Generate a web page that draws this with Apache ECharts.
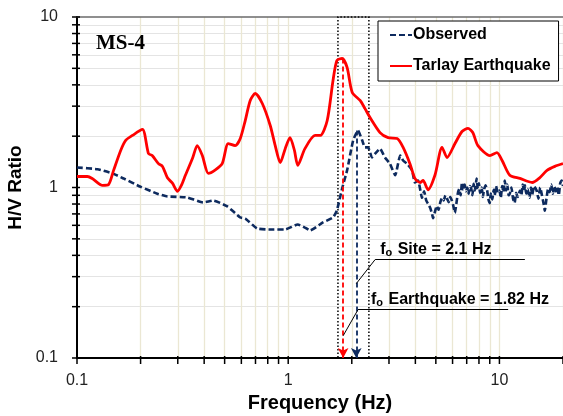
<!DOCTYPE html>
<html>
<head>
<meta charset="utf-8">
<script src="https://cdn.jsdelivr.net/npm/echarts@6/dist/echarts.min.js"></script>
<style>
  html, body { margin: 0; padding: 0; background: #fff; }
  #chart { width: 563px; height: 416px; }
</style>
</head>
<body>
<div id="chart"></div>
<script>
// Tarlay earthquake H/V curve
const freqEq = [0.1, 0.112, 0.118, 0.132, 0.141, 0.149, 0.161, 0.17, 0.183, 0.204, 0.218, 0.227, 0.243, 0.254, 0.268, 0.283, 0.299, 0.312, 0.326, 0.352, 0.371, 0.392, 0.419, 0.452, 0.487, 0.52, 0.561, 0.593, 0.626, 0.661, 0.698, 0.754, 0.822, 0.868, 0.917, 0.968, 1.02, 1.07, 1.11, 1.2, 1.34, 1.42, 1.53, 1.63, 1.7, 1.8, 1.9, 2.01, 2.19, 2.31, 2.44, 2.72, 2.97, 3.28, 3.5, 3.77, 3.98, 4.21, 4.35, 4.59, 4.95, 5.35, 5.65, 6.16, 6.65, 7.1, 7.48, 7.91, 9.02, 9.73, 10.3, 11.2, 12.5, 14.3, 15.5, 16.8, 18.3, 20];
const hvEq = [1.16, 1.16, 1.13, 1.03, 1.04, 1.26, 1.65, 1.89, 2.02, 2.19, 1.58, 1.54, 1.38, 1.33, 1.14, 1.06, 0.95, 1.03, 1.18, 1.48, 1.76, 1.54, 1.21, 1.27, 1.38, 1.81, 1.76, 1.94, 2.47, 3.24, 3.56, 3.11, 2.31, 1.76, 1.40, 1.69, 1.96, 1.65, 1.35, 1.69, 2.02, 2.02, 2.47, 4.24, 5.56, 5.71, 5.06, 3.61, 3.24, 2.90, 2.57, 2.10, 1.96, 1.94, 1.72, 1.38, 1.13, 1.07, 1.10, 0.97, 1.18, 1.72, 1.50, 1.81, 2.13, 2.22, 2.10, 1.76, 1.54, 1.60, 1.44, 1.18, 1.13, 1.07, 1.14, 1.26, 1.33, 1.38];

// observed (site) H/V curve
const freqObs = [0.1, 0.125, 0.147, 0.166, 0.2, 0.24, 0.268, 0.333, 0.396, 0.442, 0.515, 0.593, 0.626, 0.713, 0.84, 0.968, 1.11, 1.2, 1.27, 1.46, 1.63, 1.7, 1.8, 1.9, 2.03, 2.14, 2.24, 2.31, 2.39, 2.49, 2.58, 2.72, 2.87, 3.03, 3.21, 3.39, 3.5, 3.65, 3.86, 3.98, 4.12,
  4.3, 4.4, 4.5, 4.6, 4.7, 4.8, 4.85, 4.95, 5.05, 5.15, 5.25, 5.35, 5.45, 5.55, 5.65, 5.75, 5.85, 5.95, 6.05, 6.15, 6.25, 6.35, 6.45, 6.55, 6.65, 6.75, 6.85, 6.95, 7.05, 7.15, 7.25, 7.35, 7.45, 7.55, 7.65, 7.8, 7.9, 8.0, 8.1, 8.25, 8.35, 8.45, 8.6, 8.75, 8.85, 9.0, 9.1, 9.25, 9.4, 9.5, 9.65, 9.8,
  10.0, 10.15, 10.3, 10.45, 10.6, 10.75, 10.9, 11.05, 11.2, 11.4, 11.6, 11.8, 12.0, 12.2, 12.5, 12.7, 12.9, 13.1, 13.2, 13.4, 13.6, 13.9, 14.1, 14.3, 14.6, 15.0, 15.3, 15.6, 15.9, 16.2, 16.4, 16.7, 17.0, 17.3, 17.6, 17.9, 18.2, 18.5, 18.8, 19.1, 19.4, 19.7, 20.0];
const hvObs = [1.31, 1.28, 1.21, 1.13, 1.01, 0.92, 0.886, 0.874, 0.817, 0.839, 0.774, 0.667, 0.658, 0.575, 0.567, 0.567, 0.607, 0.582, 0.56, 0.624, 0.667, 0.733, 0.987, 1.26, 1.89, 2.16, 1.89, 1.72, 1.72, 1.50, 1.58, 1.69, 1.50, 1.38, 1.18, 1.54, 1.44, 1.38, 1.26, 1.07, 1.10,
  0.87, 0.95, 0.84, 0.80, 0.76, 0.70, 0.66, 0.72, 0.78, 0.74, 0.82, 0.87, 0.84, 0.90, 0.86, 0.82, 0.88, 0.84, 0.78, 0.71, 0.80, 0.92, 0.98, 0.90, 1.07, 0.97, 1.04, 0.95, 1.00, 0.92, 1.02, 0.99, 0.90, 1.05, 0.96, 1.13, 0.98, 1.06, 0.93, 1.00, 0.88, 0.97, 1.03, 0.96, 0.86, 0.81, 0.92, 0.85, 0.97, 0.90, 1.02, 0.93,
  0.96, 0.87, 1.02, 0.94, 1.10, 0.96, 1.04, 0.90, 0.92, 1.00, 0.86, 0.81, 0.93, 0.88, 0.96, 0.90, 1.04, 0.95, 1.03, 0.92, 0.98, 0.87, 1.00, 0.91, 1.02, 0.96, 0.86, 1.00, 0.90, 0.80, 0.73, 0.86, 0.98, 0.94, 1.04, 0.92, 1.02, 0.95, 1.00, 0.90, 1.06, 1.10, 1.02];

// peak frequencies and the dotted window around them
const foSite = 2.1;
const foEq = 1.82;
const windowFreq = [1.72, 2.41];

// grid lines and tick marks (log decades)
const gridFreq = [0.2, 0.3, 0.4, 0.5, 0.6, 0.7, 0.8, 0.9, 1, 2, 3, 4, 5, 6, 7, 8, 9, 10, 20];
const gridRatio = [0.2, 0.3, 0.4, 0.5, 0.6, 0.7, 0.8, 0.9, 1, 2, 3, 4, 5, 6, 7, 8, 9];
const tickFreq = [0.1, 0.2, 0.3, 0.4, 0.5, 0.6, 0.7, 0.8, 0.9, 1, 2, 3, 4, 5, 6, 7, 8, 9, 10, 20];
const tickRatio = [0.1, 0.2, 0.3, 0.4, 0.5, 0.6, 0.7, 0.8, 0.9, 1, 2, 3, 4, 5, 6, 7, 8, 9, 10];
const xLabels = [0.1, 1, 10];

const FONT = "'Liberation Sans', Arial, sans-serif";
const NAVY = "#0d2a5e";
const RED = "#ff0000";

const chart = echarts.init(document.getElementById("chart"));

const pairs = (xs, ys) => xs.map((x, i) => [x, ys[i]]);

// small helper: thin filled rect, crisper than a 1px stroke
const bar = (x, y, w, h, fill) => ({ type: "rect", shape: { x, y, width: w, height: h }, style: { fill } });

const fo = (rest) => ({
  formatter: "{b|f}{s|o}{b|" + rest + "}",
  rich: {
    b: { fontFamily: FONT, fontWeight: "bold", fontSize: 16, color: "#000" },
    s: { fontFamily: FONT, fontWeight: "bold", fontSize: 11, color: "#000", verticalAlign: "bottom", padding: [7, 1, 0, 0] },
  },
});

const gridLines = [
  ...gridRatio.map((r) => ({ yAxis: r, lineStyle: { color: "#e4e4e4", width: 1.2, type: "solid" } })),
  ...gridFreq.map((f) => ({ xAxis: f, lineStyle: { color: "#ebe7d3", width: 1.3, type: "solid" } })),
];

const option = {
  animation: false,
  title: {
    text: "MS-4",
    left: 91,
    top: 28,
    textStyle: { fontFamily: "'Liberation Serif', 'Times New Roman', serif", fontWeight: "bold", fontSize: 21, color: "#000" },
  },
  legend: {
    orient: "vertical",
    left: 378,
    top: 21,
    z: 10,
    padding: [6, 8, 7, 11],
    itemGap: 15,
    itemWidth: 22,
    itemHeight: 14,
    borderColor: "#000",
    borderWidth: 1,
    backgroundColor: "#fff",
    itemStyle: { opacity: 0 },
    data: ["Observed", "Tarlay Earthquake"],
    textStyle: { fontFamily: FONT, fontWeight: "bold", fontSize: 16, color: "#000", padding: [0, 0, 0, -4] },
  },
  grid: { left: 77, right: 0, top: 17, bottom: 58, containLabel: false, outerBoundsMode: "none" },
  xAxis: [
    {
      type: "log",
      logBase: 10,
      min: 0.1,
      max: 20,
      name: "Frequency (Hz)",
      nameLocation: "middle",
      nameGap: 30,
      nameTextStyle: { fontFamily: FONT, fontWeight: "bold", fontSize: 20, color: "#000" },
      axisLine: { lineStyle: { color: "#000", width: 2 } },
      axisTick: { show: false },
      splitLine: { show: false },
      axisLabel: {
        fontFamily: FONT, fontSize: 16, color: "#222", margin: 15,
        formatter: (v) => {
          const n = Number(v.toPrecision(3));
          return xLabels.includes(n) ? String(n) : "";
        },
      },
    },
    {
      type: "log",
      logBase: 10,
      min: 0.1,
      max: 20,
      position: "top",
      axisLine: { lineStyle: { color: "#6b6b6b", width: 1.5 } },
      axisTick: { show: false },
      axisLabel: { show: false },
      splitLine: { show: false },
    },
  ],
  yAxis: {
    type: "log",
    logBase: 10,
    min: 0.1,
    max: 10,
    name: "H/V Ratio",
    nameLocation: "middle",
    nameGap: 48,
    nameTextStyle: { fontFamily: FONT, fontWeight: "bold", fontSize: 19, color: "#000" },
    axisLine: { lineStyle: { color: "#000", width: 2 } },
    axisTick: { show: false },
    splitLine: { show: false },
    axisLabel: {
      fontFamily: FONT, fontSize: 16, color: "#222", margin: 19,
      formatter: (v) => String(Number(v.toPrecision(3))),
    },
  },
  series: [
    {
      // background grid carried by an invisible series
      type: "line",
      name: "grid",
      z: 0,
      silent: true,
      symbol: "none",
      data: [[1, 1]],
      lineStyle: { opacity: 0 },
      markLine: {
        z: 0,
        silent: true,
        symbol: "none",
        animation: false,
        label: { show: false },
        data: gridLines,
      },
    },
    {
      // cross tick marks
      type: "custom",
      silent: true,
      z: 6,
      clip: false,
      data: [[1, 1]],
      renderItem: (params, api) => {
        const kids = [];
        const yb = api.coord([0.1, 0.1])[1];
        const xl = api.coord([0.1, 0.1])[0];
        tickFreq.forEach((f) => {
          const x = api.coord([f, 1])[0];
          kids.push(bar(x - 0.75, yb - 2, 1.5, 8, "#000"));
        });
        tickRatio.forEach((r) => {
          const y = api.coord([1, r])[1];
          kids.push(bar(xl - 5, y - 0.75, 8, 1.5, "#000"));
        });
        return { type: "group", children: kids };
      },
    },
    {
      name: "Observed",
      type: "line",
      z: 3,
      symbol: "none",
      smooth: 0.15,
      data: pairs(freqObs, hvObs),
      lineStyle: { color: NAVY, width: 2.6, type: [6, 3] },
      itemStyle: { color: NAVY },
      markArea: {
        silent: true,
        itemStyle: { color: "rgba(0,0,0,0)", borderColor: "#000", borderWidth: 1.5, borderType: [1.5, 2] },
        data: [[{ coord: [windowFreq[0], 0.1] }, { coord: [windowFreq[1], 10] }]],
      },
      markLine: {
        silent: true,
        symbol: "none",
        animation: false,
        label: { show: false },
        data: [
          [
            { coord: [foSite, 2.16], symbol: "none", lineStyle: { color: NAVY, width: 1.8, type: [5, 3] } },
            { coord: [foSite, 0.1], symbol: "arrow", symbolSize: [8, 10] },
          ],
          [
            { coord: [foSite, 0.273], lineStyle: { color: "#000", width: 1, type: "solid" } },
            { coord: [2.58, 0.378] },
          ],
          [
            {
              coord: [2.58, 0.378],
              lineStyle: { color: "#000", width: 1, type: "solid" },
              label: Object.assign({ show: true, position: "insideStartTop", distance: [5, 1] }, fo(" Site = 2.1 Hz")),
            },
            { coord: [13.2, 0.378] },
          ],
        ],
      },
    },
    {
      name: "Tarlay Earthquake",
      type: "line",
      z: 4,
      symbol: "none",
      smooth: 0.25,
      data: pairs(freqEq, hvEq),
      lineStyle: { color: RED, width: 2.8 },
      itemStyle: { color: RED },
      markLine: {
        silent: true,
        symbol: "none",
        animation: false,
        label: { show: false },
        data: [
          [
            { coord: [foEq, 5.7], symbol: "none", lineStyle: { color: RED, width: 1.8, type: [5, 3] } },
            { coord: [foEq, 0.1], symbol: "arrow", symbolSize: [8, 10] },
          ],
          [
            { coord: [foEq, 0.135], lineStyle: { color: "#000", width: 1, type: "solid" } },
            { coord: [2.14, 0.192] },
          ],
          [
            {
              coord: [2.14, 0.192],
              lineStyle: { color: "#000", width: 1, type: "solid" },
              label: Object.assign({ show: true, position: "insideStartTop", distance: [13, 1] }, fo(" Earthquake = 1.82 Hz")),
            },
            { coord: [11.0, 0.192] },
          ],
        ],
      },
    },
  ],
};

chart.setOption(option);
</script>
</body>
</html>
